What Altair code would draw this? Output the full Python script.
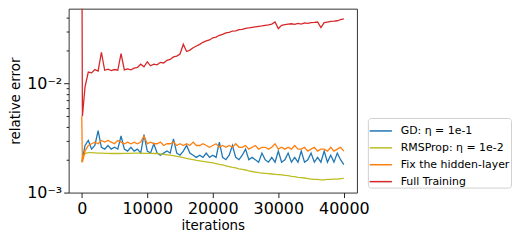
import altair as alt
import pandas as pd

# sampled iteration grid
iterations = [0, 100] + list(range(500, 40001, 500))

series_names = ["GD: η = 1e-1", "RMSProp: η = 1e-2", "Fix the hidden-layer", "Full Training"]
series_colors = ["#1f77b4", "#bcbd22", "#ff7f0e", "#d62728"]

gd = [0.0019, 0.0020,
      0.0027, 0.0030, 0.0025, 0.0027, 0.0037, 0.0026, 0.0025, 0.0027, 0.0025, 0.0026,
      0.0025, 0.0033, 0.0025, 0.0024, 0.0026, 0.0024, 0.0025, 0.0023, 0.0034, 0.0024,
      0.0023, 0.0028, 0.0023, 0.0022, 0.0023, 0.0024, 0.0023, 0.0031, 0.0023, 0.0022,
      0.0024, 0.0027, 0.0023, 0.0022, 0.0021, 0.0022, 0.0021, 0.0023, 0.0021, 0.0022,
      0.0021, 0.0029, 0.0021, 0.0020, 0.0022, 0.0027, 0.0021, 0.0020, 0.0022, 0.0025,
      0.0020, 0.0021, 0.0020, 0.0019, 0.0023, 0.0020, 0.0019, 0.0021, 0.0019, 0.0024,
      0.0019, 0.0020, 0.0023, 0.0019, 0.0021, 0.0019, 0.0024, 0.0019, 0.0020, 0.0023,
      0.0019, 0.0021, 0.0019, 0.0024, 0.0019, 0.0022, 0.0019, 0.0023, 0.0020, 0.0018]

rmsprop = [0.0019, 0.0021,
           0.00228, 0.00232, 0.00232, 0.00231, 0.00230, 0.00230, 0.00229, 0.00229, 0.00228, 0.00228,
           0.00228, 0.00228, 0.00229, 0.00229, 0.00229, 0.00230, 0.00230, 0.00230, 0.00229, 0.00229,
           0.00229, 0.00228, 0.00228, 0.00226, 0.00224, 0.00222, 0.00220, 0.00218, 0.00215, 0.00212,
           0.00209, 0.00206, 0.00203, 0.00200, 0.00197, 0.00195, 0.00193, 0.00191, 0.00189, 0.00187,
           0.00184, 0.00181, 0.00179, 0.00176, 0.00173, 0.00170, 0.00168, 0.00165, 0.00163, 0.00161,
           0.00158, 0.00156, 0.00154, 0.00152, 0.00151, 0.00150, 0.00149, 0.00148, 0.00147, 0.00146,
           0.00145, 0.00144, 0.00143, 0.00141, 0.00140, 0.00138, 0.00137, 0.00136, 0.00134, 0.00133,
           0.00132, 0.00132, 0.00131, 0.00131, 0.00132, 0.00132, 0.00133, 0.00133, 0.00134, 0.00135]

fix_hidden = [0.0050, 0.0019,
              0.0024, 0.0027, 0.0028, 0.0029, 0.0028, 0.0030, 0.0029, 0.0030, 0.0029, 0.0028,
              0.0030, 0.0029, 0.0028, 0.0029, 0.0028, 0.0029, 0.0028, 0.0029, 0.0033, 0.0028,
              0.0029, 0.0028, 0.0028, 0.0029, 0.0027, 0.0028, 0.0028, 0.0029, 0.0027, 0.0028,
              0.0027, 0.0028, 0.0027, 0.0029, 0.0027, 0.0027, 0.0028, 0.0027, 0.0026, 0.0027,
              0.0028, 0.0026, 0.0027, 0.0026, 0.0027, 0.0026, 0.0028, 0.0026, 0.0026, 0.0027,
              0.0025, 0.0026, 0.0027, 0.0025, 0.0026, 0.0026, 0.0025, 0.0026, 0.0028, 0.0025,
              0.0026, 0.0025, 0.0026, 0.0025, 0.0027, 0.0025, 0.0025, 0.0026, 0.0024, 0.0025,
              0.0026, 0.0024, 0.0025, 0.0025, 0.0024, 0.0026, 0.0024, 0.0025, 0.0026, 0.0024]

full_training = [0.5, 0.0050,
                 0.0093, 0.0127, 0.0125, 0.0134, 0.0130, 0.0193, 0.0132, 0.0135, 0.0131, 0.0134,
                 0.0132, 0.0187, 0.0133, 0.0136, 0.0133, 0.0138, 0.0140, 0.0150, 0.0142, 0.0158,
                 0.0145, 0.0150, 0.0148, 0.0156, 0.0154, 0.0163, 0.0166, 0.0175, 0.0178, 0.0186,
                 0.0228, 0.0196, 0.0202, 0.0212, 0.0220, 0.0228, 0.0238, 0.0245, 0.0250, 0.0262,
                 0.0266, 0.0276, 0.0282, 0.0290, 0.0294, 0.0302, 0.0303, 0.0311, 0.0312, 0.0320,
                 0.0322, 0.0326, 0.0330, 0.0333, 0.0336, 0.0340, 0.0344, 0.0350, 0.0365, 0.0318,
                 0.0340, 0.0345, 0.0350, 0.0352, 0.0348, 0.0355, 0.0350, 0.0358, 0.0355, 0.0360,
                 0.0362, 0.0365, 0.0325, 0.0360, 0.0365, 0.0370, 0.0372, 0.0375, 0.0385, 0.0390]

x_ticks = [0, 10000, 20000, 30000, 40000]
y_ticks = [0.001, 0.002, 0.003, 0.004, 0.005, 0.006, 0.007, 0.008, 0.009,
           0.01, 0.02, 0.03, 0.04]

rows = []
for name, vals in zip(series_names, [gd, rmsprop, fix_hidden, full_training]):
    for it, v in zip(iterations, vals):
        rows.append({"iteration": it, "error": v, "series": name})
df = pd.DataFrame(rows)

major = "datum.value == 0.01 || datum.value == 0.001"

chart = alt.Chart(df).mark_line(strokeWidth=1.3, clip=True).encode(
    x=alt.X("iteration:Q",
            scale=alt.Scale(domain=[-2000, 42000], nice=False, zero=False),
            axis=alt.Axis(values=x_ticks, format="d", title="iterations",
                          labelFontSize=16, titleFontSize=13.5, tickSize=5,
                          labelPadding=3, titlePadding=2, grid=False,
                          tickColor="#222", domain=False, labelColor="black",
                          titleColor="black", titleFontWeight="normal")),
    y=alt.Y("error:Q",
            scale=alt.Scale(type="log", domain=[0.001, 0.0484], nice=False),
            axis=alt.Axis(values=y_ticks,
                          labelExpr="datum.value == 0.01 ? '10⁻²' : (datum.value == 0.001 ? '10⁻³' : '')",
                          tickSize={"condition": {"test": major, "value": 5}, "value": 2.5},
                          title="relative error", labelFontSize=16, titleFontSize=13.5,
                          labelPadding=2, titleX=-53, titleBaseline="middle",
                          titleAlign="center", titleAngle=270,
                          grid=False, tickColor="#222",
                          domain=False, labelColor="black", titleColor="black",
                          titleFontWeight="normal")),
    color=alt.Color("series:N",
                    scale=alt.Scale(domain=series_names, range=series_colors),
                    sort=series_names,
                    legend=alt.Legend(title=None, orient="none", legendX=301, legendY=110,
                                      symbolType="stroke", symbolSize=500,
                                      symbolStrokeWidth=1.5, labelFontSize=11,
                                      labelOffset=8, strokeColor="#d0d0d0",
                                      fillColor="white", padding=1, cornerRadius=3,
                                      rowPadding=-2, labelColor="black")),
).properties(
    width=290, height=185,
    autosize=alt.AutoSizeParams(type="none"),
    padding={"left": 61, "top": 0, "right": 160, "bottom": 40},
).configure(
    font="DejaVu Sans",
).configure_view(
    stroke="#333", strokeWidth=1,
)

chart.save("out.html", embed_options={"renderer": "svg", "actions": False})
